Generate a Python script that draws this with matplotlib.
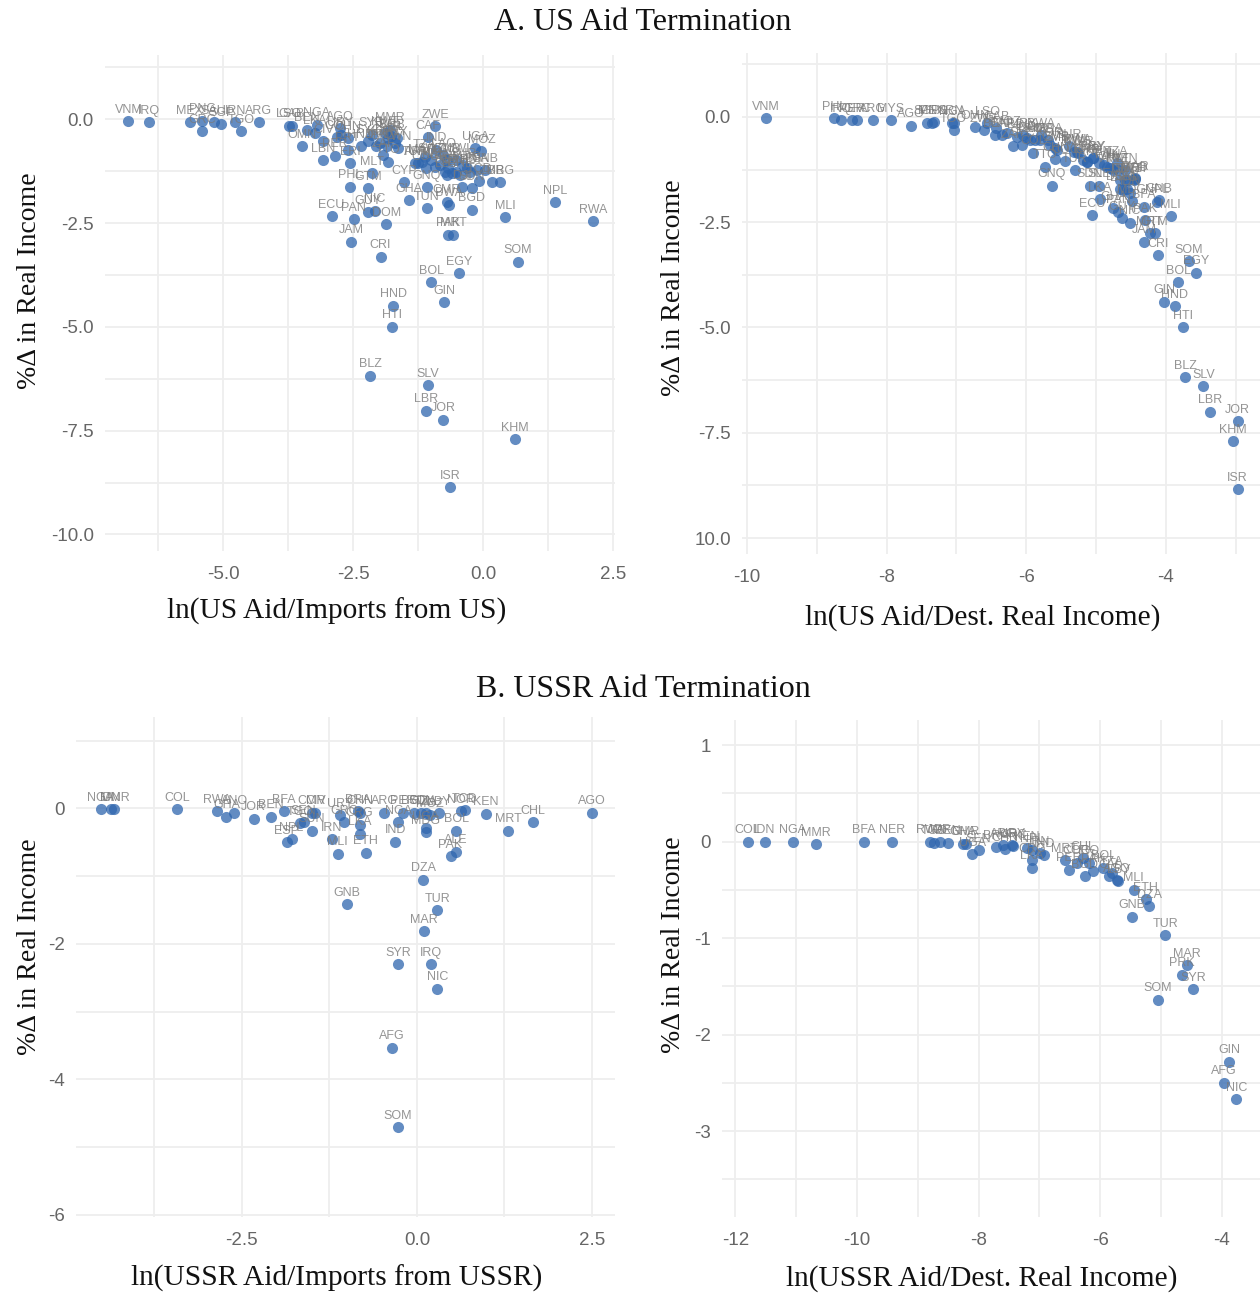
import matplotlib
matplotlib.use("Agg")
import matplotlib.pyplot as plt

W, H = 1260, 1293

# Panel A left: ln(US Aid / Imports from US)
a1_labels = ["VNM","IRQ","MEX","PNG","GRC","SAU","SGP","IRN","TGO","ARG","LSO","GAB","BEN","LKA","NGA","OMN","CIV","LBN","PER","ERI","COL","AGO","URY","CHN","PRT","HND","SYC","SYR","MLT","PHL","GTM","ECU","PAN","GUY","NIC","DOM","JAM","ZAF","TTO","KOR","MMR","BRB","PRY","TWN","CAF","ZWE","TUR","ARM","COG","KEN","IND","TZA","CYP","GNQ","GHA","TUN","CMR","BWA","BGD","MLI","PAK","MRT","DJI","SDN","UGA","MOZ","ZMB","BRG","GNB","GMB","ETH","SEN","MDG","BFA","MWI","SLE","TCD","NPL","RWA","SOM","EGY","BOL","CRI","GIN","HND","HTI","BLZ","SLV","LBR","JOR","KHM","ISR","KWT","BHR","ISL","JPN","MDA","LAO","VEN","FJI","SUR","BDI","SWZ","MAR","CHL","LBY"]
a1_x = [-6.82,-6.43,-5.64,-5.40,-5.40,-5.18,-5.03,-4.76,-4.65,-4.31,-3.74,-3.68,-3.39,-3.23,-3.20,-3.49,-3.07,-3.08,-2.85,-2.56,-2.81,-2.75,-2.74,-2.59,-2.60,-2.35,-2.21,-2.14,-2.14,-2.56,-2.21,-2.91,-2.49,-2.21,-2.08,-1.86,-2.53,-1.92,-1.82,-1.98,-1.79,-1.76,-1.69,-1.63,-1.05,-0.92,-1.31,-1.25,-1.10,-0.92,-0.90,-1.12,-1.52,-1.08,-1.43,-1.08,-0.70,-0.65,-0.22,0.43,-0.67,-0.57,-0.40,-0.22,-0.15,-0.03,0.17,0.33,0.04,-0.70,-0.51,-0.60,-0.31,-0.12,-0.51,-0.73,-0.07,1.38,2.12,0.67,-0.46,-0.99,-1.97,-0.75,-1.73,-1.75,-2.17,-1.06,-1.10,-0.77,0.62,-0.63,-1.88,-1.82,-1.66,-2.05,-1.85,-0.76,-0.83,-0.67,-0.38,-0.25,-0.99,-1.18,-0.44,-0.70]
a1_y = [-0.04,-0.07,-0.07,-0.03,-0.29,-0.07,-0.11,-0.07,-0.29,-0.07,-0.15,-0.15,-0.25,-0.32,-0.13,-0.65,-0.53,-0.99,-0.88,-1.06,-0.43,-0.21,-0.37,-0.45,-0.73,-0.64,-0.53,-0.37,-1.30,-1.62,-1.66,-2.33,-2.40,-2.24,-2.20,-2.52,-2.95,-0.86,-1.02,-0.57,-0.25,-0.41,-0.57,-0.69,-0.43,-0.17,-1.05,-1.05,-1.18,-1.14,-0.73,-0.90,-1.51,-1.63,-1.95,-2.14,-1.98,-2.06,-2.18,-2.36,-2.78,-2.78,-1.63,-1.66,-0.69,-0.77,-1.51,-1.51,-1.22,-0.98,-1.26,-1.30,-1.18,-1.22,-0.98,-1.26,-1.48,-2.00,-2.45,-3.43,-3.70,-3.92,-3.31,-4.40,-4.49,-5.00,-6.18,-6.40,-7.02,-7.24,-7.71,-8.86,-0.33,-0.45,-0.45,-0.65,-0.65,-0.86,-1.10,-1.18,-1.10,-1.26,-0.98,-1.02,-1.34,-1.34]

# Panel A right: ln(US Aid / Dest. Real Income)
a2_labels = ["VNM","PHL","IRQ","PER","GRC","ARG","MYS","AGO","SGP","MEX","PNG","NGA","IRN","TGO","OMN","ZWE","LSO","BEN","GAB","CAF","ZAF","SYC","URY","COL","SYR","TTO","KOR","CHN","COG","TUR","MMR","BRB","PRY","KEN","TWN","GNQ","TZA","CMR","DJI","ECU","ARM","PAN","GUY","NIC","DOM","ETH","SEN","MDG","BFA","NPL","TCD","GNB","MLI","PAK","MRT","GTM","CRI","SOM","EGY","BOL","GIN","HND","HTI","BLZ","SLV","LBR","JOR","KHM","ISR","IND","UGA","GMB","MWI","SDN","SLE","LKA","JAM","CYP","GHA","MOZ","BDI","LAO","BWA","MDA","ZMB","SUR","RWA","TUN","LBY","FJI","CHL","MLT","VEN","SWZ","MAR","BRG","IDN"]
a2_x = [-9.73,-8.75,-8.65,-8.50,-8.42,-8.20,-7.94,-7.65,-7.42,-7.35,-7.32,-7.06,-7.04,-7.04,-6.73,-6.61,-6.56,-6.44,-6.43,-6.35,-6.19,-6.06,-6.04,-5.90,-5.87,-5.73,-5.66,-5.58,-5.44,-5.30,-5.25,-5.13,-5.04,-4.96,-4.84,-5.63,-4.70,-4.58,-4.65,-5.05,-4.75,-4.68,-4.63,-4.51,-4.65,-4.46,-4.56,-4.49,-4.31,-4.13,-4.44,-4.10,-3.93,-4.30,-4.23,-4.16,-4.11,-3.67,-3.57,-3.82,-4.02,-3.87,-3.75,-3.72,-3.46,-3.37,-2.97,-3.04,-2.97,-5.99,-5.80,-5.58,-5.32,-5.09,-4.95,-4.94,-4.31,-5.13,-4.75,-6.28,-6.13,-5.94,-5.78,-5.68,-5.56,-5.39,-5.27,-5.18,-5.04,-4.89,-4.80,-4.68,-4.58,-4.54,-4.44,-4.61,-4.51]
a2_y = [-0.03,-0.03,-0.07,-0.07,-0.07,-0.07,-0.07,-0.21,-0.14,-0.14,-0.12,-0.15,-0.14,-0.32,-0.24,-0.32,-0.15,-0.43,-0.27,-0.43,-0.69,-0.66,-0.43,-0.85,-0.55,-1.18,-0.66,-1.00,-1.05,-1.26,-0.86,-1.06,-0.98,-1.10,-1.18,-1.63,-1.10,-1.50,-1.50,-2.33,-1.26,-2.25,-2.41,-2.51,-1.70,-1.50,-1.70,-2.00,-2.13,-2.01,-1.48,-1.98,-2.35,-2.45,-2.76,-2.76,-3.28,-3.43,-3.70,-3.92,-4.39,-4.49,-4.99,-6.18,-6.39,-7.00,-7.22,-7.70,-8.84,-0.51,-0.55,-0.74,-0.82,-1.63,-1.63,-1.95,-2.96,-1.06,-2.17,-0.39,-0.47,-0.55,-0.43,-0.55,-0.78,-0.70,-0.82,-1.02,-0.98,-1.14,-1.22,-1.26,-1.26,-1.50,-1.46,-1.73,-1.81]

# Panel B left: ln(USSR Aid / Imports from USSR)
b1_labels = ["NGA","IDN","MMR","COL","RWA","GHA","ANO","JOR","BEN","BFA","ESP","NPL","TGO","SEN","CMR","CIV","SUN","IRN","MLI","URY","GRC","BRA","CHN","CRG","LKA","ETH","ARG","IND","NGA","PER","BGD","SDN","TZA","UGA","MDG","MOZ","LBY","DZA","BOL","PAK","ALE","NOR","TCD","KEN","MRT","CHL","AGO","GNB","TUR","MAR","SYR","IRQ","NIC","AFG","SOM"]
b1_x = [-4.52,-4.37,-4.32,-3.43,-2.86,-2.72,-2.61,-2.33,-2.09,-1.90,-1.86,-1.79,-1.67,-1.62,-1.50,-1.45,-1.50,-1.22,-1.13,-1.10,-1.04,-0.84,-0.81,-0.82,-0.82,-0.73,-0.47,-0.31,-0.27,-0.20,-0.04,0.06,0.13,0.13,0.13,0.18,0.31,0.09,0.56,0.48,0.56,0.63,0.68,0.99,1.30,1.66,2.50,-1.00,0.29,0.10,-0.27,0.20,0.29,-0.36,-0.27]
b1_y = [-0.01,-0.01,-0.01,-0.01,-0.04,-0.12,-0.06,-0.15,-0.12,-0.04,-0.50,-0.45,-0.22,-0.20,-0.06,-0.06,-0.33,-0.45,-0.67,-0.10,-0.20,-0.04,-0.06,-0.24,-0.37,-0.65,-0.06,-0.49,-0.20,-0.06,-0.06,-0.06,-0.07,-0.29,-0.35,-0.10,-0.07,-1.05,-0.33,-0.70,-0.64,-0.04,-0.03,-0.08,-0.33,-0.20,-0.06,-1.41,-1.50,-1.81,-2.30,-2.30,-2.66,-3.53,-4.70]

# Panel B right: ln(USSR Aid / Dest. Real Income)
b2_labels = ["COL","IDN","NGA","MMR","BFA","NER","RWA","TGO","JOR","BEN","GHA","CMR","UGA","SEN","BRA","ARG","CHN","URY","GRC","KEN","NPL","CRG","LKA","IRN","IND","MRT","PER","COG","BGD","CHL","PAK","IRQ","BOL","TZA","AGO","LBY","CIV","MLI","ETH","DZA","GNB","TUR","MAR","PRK","SYR","SOM","GIN","AFG","NIC"]
b2_x = [-11.80,-11.52,-11.06,-10.68,-9.88,-9.42,-8.80,-8.73,-8.64,-8.50,-8.25,-8.21,-8.10,-8.00,-7.72,-7.59,-7.56,-7.45,-7.43,-7.21,-7.12,-7.12,-7.12,-6.99,-6.92,-6.58,-6.51,-6.38,-6.25,-6.28,-6.11,-6.19,-5.95,-5.81,-5.73,-5.70,-5.85,-5.45,-5.25,-5.19,-5.48,-4.93,-4.57,-4.65,-4.47,-5.05,-3.88,-3.96,-3.76]
b2_y = [0.00,0.00,0.00,-0.03,0.00,0.00,0.00,-0.01,0.00,-0.01,-0.02,-0.02,-0.13,-0.09,-0.06,-0.04,-0.08,-0.04,-0.05,-0.07,-0.09,-0.19,-0.27,-0.12,-0.14,-0.19,-0.29,-0.22,-0.36,-0.17,-0.30,-0.22,-0.27,-0.33,-0.40,-0.41,-0.36,-0.50,-0.60,-0.67,-0.78,-0.97,-1.28,-1.38,-1.53,-1.64,-2.28,-2.50,-2.67]

# Tick labels and gridlines
a1_xticks, a1_xticklabels = [-5, -2.5, 0, 2.5], ["-5.0", "-2.5", "0.0", "2.5"]
a1_yticks, a1_yticklabels = [0, -2.5, -5, -7.5, -10], ["0.0", "-2.5", "-5.0", "-7.5", "-10.0"]
a2_xticks, a2_xticklabels = [-10, -8, -6, -4], ["-10", "-8", "-6", "-4"]
a2_yticks, a2_yticklabels = [0, -2.5, -5, -7.5, -10], ["0.0", "-2.5", "-5.0", "-7.5", "10.0"]
b1_xticks, b1_xticklabels = [-2.5, 0, 2.5], ["-2.5", "0.0", "2.5"]
b1_yticks, b1_yticklabels = [0, -2, -4, -6], ["0", "-2", "-4", "-6"]
b2_xticks, b2_xticklabels = [-12, -10, -8, -6, -4], ["-12", "-10", "-8", "-6", "-4"]
b2_yticks, b2_yticklabels = [1, 0, -1, -2, -3], ["1", "0", "-1", "-2", "-3"]

a1_xgrid = [-6.25, -5, -3.75, -2.5, -1.25, 0, 1.25, 2.5]
a1_ygrid = [1.25, 0, -1.25, -2.5, -3.75, -5, -6.25, -7.5, -8.75, -10]
a2_xgrid = [-10, -9, -8, -7, -6, -5, -4, -3]
a2_ygrid = a1_ygrid
b1_xgrid = [-3.75, -2.5, -1.25, 0, 1.25, 2.5]
b1_ygrid = [1, 0, -1, -2, -3, -4, -5, -6]
b2_xgrid = [-12, -11, -10, -9, -8, -7, -6, -5, -4]
b2_ygrid = [1, 0.5, 0, -0.5, -1, -1.5, -2, -2.5, -3, -3.5]

SANS = "Liberation Sans"
SERIF = "Liberation Serif"
DOT = "#2f66ae"
GRID = "#eeeeee"
TICK = "#666666"
LABEL = "#7a7a7a"

fig = plt.figure(figsize=(W / 100, H / 100), dpi=100, facecolor="white")


def panel(box, xlim, ylim, labels, xs, ys, xt, xtl, yt, ytl, xg, yg, xlabel, xlab_pos, ylab_pos):
    left, right, top, bottom = box
    ax = fig.add_axes([left / W, 1 - bottom / H, (right - left) / W, (bottom - top) / H])
    ax.set_xlim(xlim)
    ax.set_ylim(ylim)
    for s in ax.spines.values():
        s.set_visible(False)
    ax.set_xticks(xg, minor=True)
    ax.set_yticks(yg, minor=True)
    ax.set_xticks(xt)
    ax.set_xticklabels(xtl, fontfamily=SANS, fontsize=13.5, color=TICK)
    ax.set_yticks(yt)
    ax.set_yticklabels(ytl, fontfamily=SANS, fontsize=13.5, color=TICK)
    ax.tick_params(which="both", length=0)
    ax.tick_params(axis="x", pad=11)
    ax.tick_params(axis="y", pad=8)
    ax.grid(True, which="both", color=GRID, lw=1.3, zorder=0)
    ax.set_axisbelow(True)
    ax.scatter(xs, ys, s=64, color=DOT, alpha=0.75, linewidths=0, zorder=3, clip_on=False)
    for name, x, y in zip(labels, xs, ys):
        ax.annotate(name, (x, y), xytext=(0, 8.2), textcoords="offset points", ha="center", va="center",
                    fontfamily=SANS, fontsize=9, color=LABEL, alpha=0.8, zorder=4, annotation_clip=False)
    fig.text(xlab_pos[0] / W, 1 - xlab_pos[1] / H, xlabel, fontfamily=SERIF, fontsize=21.2,
             ha="center", va="center", color="#111111")
    fig.text(ylab_pos[0] / W, 1 - ylab_pos[1] / H, "%\u0394 in Real Income", fontfamily=SERIF, fontsize=20,
             ha="center", va="center", rotation=90, color="#111111")
    return ax


panel((105, 615, 55, 551), (-7.27, 2.54), (-10.40, 1.55), a1_labels, a1_x, a1_y,
      a1_xticks, a1_xticklabels, a1_yticks, a1_yticklabels, a1_xgrid, a1_ygrid,
      "ln(US Aid/Imports from US)", (337, 611), (29, 281))
panel((742, 1260, 53, 554), (-10.07, -2.65), (-10.38, 1.52), a2_labels, a2_x, a2_y,
      a2_xticks, a2_xticklabels, a2_yticks, a2_yticklabels, a2_xgrid, a2_ygrid,
      "ln(US Aid/Dest. Real Income)", (983, 618), (674, 288))
panel((76, 615, 717, 1217), (-4.87, 2.83), (-6.03, 1.35), b1_labels, b1_x, b1_y,
      b1_xticks, b1_xticklabels, b1_yticks, b1_yticklabels, b1_xgrid, b1_ygrid,
      "ln(USSR Aid/Imports from USSR)", (337, 1278), (29, 947))
panel((722, 1260, 720, 1217), (-12.22, -3.37), (-3.89, 1.26), b2_labels, b2_x, b2_y,
      b2_xticks, b2_xticklabels, b2_yticks, b2_yticklabels, b2_xgrid, b2_ygrid,
      "ln(USSR Aid/Dest. Real Income)", (982, 1279), (674, 945))

fig.text(643 / W, 1 - 23 / H, "A. US Aid Termination", fontfamily=SERIF, fontsize=23, ha="center", va="center", color="#111111")
fig.text(643 / W, 1 - 690 / H, "B. USSR Aid Termination", fontfamily=SERIF, fontsize=23, ha="center", va="center", color="#111111")

fig.savefig("out.png", dpi=100, facecolor="white")
